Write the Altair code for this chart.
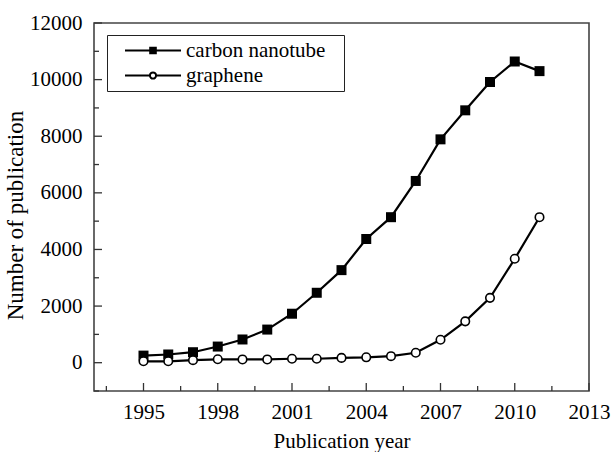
import altair as alt
import pandas as pd

FONT = "Liberation Serif"

years = list(range(1995, 2012))
cnt = [250, 290, 370, 570, 820, 1170, 1730, 2470, 3270, 4370, 5140,
       6420, 7890, 8915, 9915, 10640, 10300]
gra = [50, 50, 90, 120, 115, 115, 140, 140, 170, 190, 230,
       350, 810, 1460, 2290, 3670, 5140]
series_names = ["carbon nanotube", "graphene"]

x_major = [1995, 1998, 2001, 2004, 2007, 2010, 2013]
x_minor = [1993.5, 1996.5, 1999.5, 2002.5, 2005.5, 2008.5, 2011.5]
y_major = [0, 2000, 4000, 6000, 8000, 10000, 12000]
y_minor = [-1000, 1000, 3000, 5000, 7000, 9000, 11000]

W, H = 495, 368

df = pd.DataFrame({
    "year": years + years,
    "count": cnt + gra,
    "series": [series_names[0]] * len(years) + [series_names[1]] * len(years),
})

xs = alt.Scale(domain=[1993, 2013], nice=False, zero=False)
ys = alt.Scale(domain=[-1000, 12000], nice=False, zero=False)

xaxis = alt.Axis(values=x_major, format="d", ticks=False, tickSize=0, domain=False,
                 grid=False, labelFont=FONT, labelFontSize=21, labelColor="black",
                 labelPadding=10, labelFlush=False, labelOverlap=False,
                 title="Publication year", titleFont=FONT, titleFontSize=21,
                 titleFontWeight="normal", titleColor="black", titlePadding=8)
yaxis = alt.Axis(values=y_major, format="d", ticks=False, tickSize=0, domain=False,
                 grid=False, labelFont=FONT, labelFontSize=21, labelColor="black",
                 labelPadding=12, labelFlush=False, labelOverlap=False,
                 title="Number of publication", titleFont=FONT, titleFontSize=23,
                 titleFontWeight="normal", titleColor="black", titlePadding=2,
                 titleY=192)

X = alt.X("year:Q", scale=xs, axis=xaxis)
Y = alt.Y("count:Q", scale=ys, axis=yaxis)

base = alt.Chart(df)

lines = base.mark_line(color="black", strokeWidth=2.2).encode(x=X, y=Y, detail="series:N")

squares = base.transform_filter(alt.datum.series == series_names[0]).mark_point(
    shape="square", filled=True, color="black", size=100, opacity=1
).encode(x=X, y=Y)

circles = base.transform_filter(alt.datum.series == series_names[1]).mark_point(
    shape="circle", filled=True, fill="white", stroke="black", strokeWidth=1.6,
    size=72, opacity=1
).encode(x=X, y=Y)

path_c = "M-1,0H1M-0.1,-0.1H0.1V0.1H-0.1Z"
path_g = "M-1,0H-0.11M0.11,0H1M0.11,0A0.11,0.11 0 1,1 -0.11,0A0.11,0.11 0 1,1 0.11,0Z"

leg = alt.Legend(title=None, orient="none", legendX=13, legendY=12, padding=3,
                 symbolSize=3136, symbolOffset=14, labelOffset=4, clipHeight=25,
                 rowPadding=0, strokeColor="#222", fillColor="white",
                 symbolStrokeWidth=2, symbolOpacity=1,
                 labelExpr="datum.label + '\u2800'",
                 labelFont=FONT, labelFontSize=21, labelColor="black", labelLimit=0)

legend_layer = base.mark_point(opacity=0, strokeWidth=2).encode(
    x=X, y=Y,
    shape=alt.Shape("series:N", scale=alt.Scale(domain=series_names, range=[path_c, path_g]), legend=leg),
    fill=alt.Fill("series:N", scale=alt.Scale(domain=series_names, range=["black", "white"]), legend=leg),
    stroke=alt.Stroke("series:N", scale=alt.Scale(domain=series_names, range=["black", "black"]), legend=leg),
)

xmaj = alt.Chart(pd.DataFrame({"t": x_major})).mark_rule(color="#333", strokeWidth=1.3).encode(
    x=alt.X("t:Q", scale=xs), y=alt.value(H), y2=alt.value(H - 8))
xmin = alt.Chart(pd.DataFrame({"t": x_minor})).mark_rule(color="#333", strokeWidth=1.3).encode(
    x=alt.X("t:Q", scale=xs), y=alt.value(H), y2=alt.value(H - 5))
ymaj = alt.Chart(pd.DataFrame({"t": y_major})).mark_rule(color="#333", strokeWidth=1.3).encode(
    y=alt.Y("t:Q", scale=ys), x=alt.value(0), x2=alt.value(8))
ymin = alt.Chart(pd.DataFrame({"t": y_minor})).mark_rule(color="#333", strokeWidth=1.3).encode(
    y=alt.Y("t:Q", scale=ys), x=alt.value(0), x2=alt.value(5))

chart = alt.layer(xmaj, xmin, ymaj, ymin, lines, squares, circles, legend_layer).properties(
    width=W, height=H,
    autosize=alt.AutoSizeParams(type="none"),
    padding={"left": 94, "top": 23, "right": 24, "bottom": 61},
    background="white",
).configure(font=FONT).configure_view(stroke="#444", strokeWidth=1.6).configure_axis(
    labelFont=FONT, titleFont=FONT).configure_legend(labelFont=FONT)

chart.save("out.html", embed_options={"renderer": "svg", "actions": False})
